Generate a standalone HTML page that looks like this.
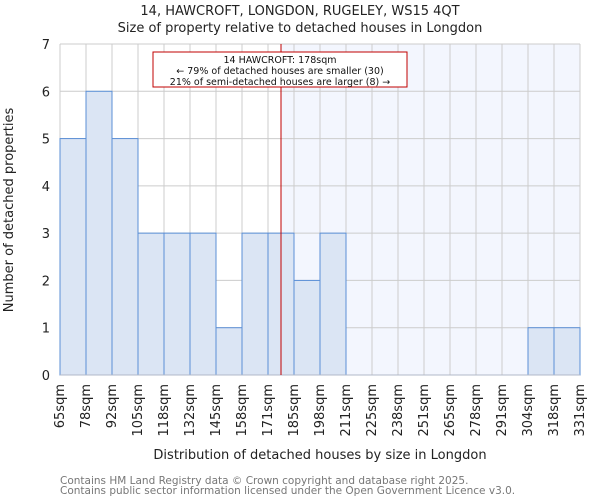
<!DOCTYPE html>
<html><head><meta charset="utf-8"><style>
body{margin:0;background:#fff;font-family:"DejaVu Sans","Liberation Sans",sans-serif}
svg text{font-family:"DejaVu Sans","Liberation Sans",sans-serif}
</style></head><body>
<svg id="c" width="600" height="500"></svg>
<script>
const categories=["65sqm","78sqm","92sqm","105sqm","118sqm","132sqm","145sqm","158sqm","171sqm","185sqm","198sqm","211sqm","225sqm","238sqm","251sqm","265sqm","278sqm","291sqm","304sqm","318sqm","331sqm"];
const counts=[5,6,5,3,3,3,1,3,3,2,3,0,0,0,0,0,0,0,1,1];
const yTicks=[0,1,2,3,4,5,6,7];
const markerValue=8.5; // bin position of 178sqm
const svg=document.getElementById('c');
const NS='http://www.w3.org/2000/svg';
const L=60,R=580,T=44,B=375,yMax=7;
const bw=(R-L)/counts.length;
const x=i=>L+i*bw;
const y=v=>B-(v/yMax)*(B-T);
function mk(tag,attrs,txt){const e=document.createElementNS(NS,tag);for(const k in attrs)e.setAttribute(k,attrs[k]);if(txt!==undefined)e.textContent=txt;svg.appendChild(e);return e;}
let e;
e=mk('rect',{x:L,y:T,width:R-L,height:B-T,fill:'#fff'});

const mx=x(markerValue);
e=mk('rect',{x:mx,y:T,width:R-mx,height:B-T,fill:'#f3f6fe'});

yTicks.forEach(t=>{e=mk('line',{x1:L,x2:R,y1:y(t),y2:y(t),stroke:'#ccc','stroke-width':1});

e=mk('text',{x:L-10,y:y(t)+5,'text-anchor':'end','font-size':13,fill:'#222'},t);
});
categories.forEach((c,i)=>{e=mk('line',{x1:x(i),x2:x(i),y1:T,y2:B,stroke:'#ccc','stroke-width':1});

const tx=x(i)+4;
e=mk('text',{x:0,y:0,transform:`translate(${tx},${B+9}) rotate(-90)`,'text-anchor':'end','font-size':13,fill:'#222'},c);
});
counts.forEach((v,i)=>{if(v<=0)return;
e=mk('rect',{x:x(i),y:y(v),width:bw,height:B-y(v),fill:'#dbe5f4',stroke:'#5b8fd6','stroke-width':1});
});
e=mk('line',{x1:L,x2:R,y1:B,y2:B,stroke:'#b0b8c8','stroke-width':1});

e=mk('line',{x1:mx,x2:mx,y1:T,y2:B,stroke:'#c00000','stroke-width':1});

e=mk('rect',{x:153,y:52,width:254,height:35,fill:'#fff',stroke:'#c00000','stroke-width':1});

[["14 HAWCROFT: 178sqm",62],["← 79% of detached houses are smaller (30)",73],["21% of semi-detached houses are larger (8) →",84]].forEach(a=>{
e=mk('text',{x:280,y:a[1]+1,'text-anchor':'middle','font-size':9.5,fill:'#111'},a[0]);
});
e=mk('text',{x:300,y:15,'text-anchor':'middle','font-size':13,fill:'#222'},"14, HAWCROFT, LONGDON, RUGELEY, WS15 4QT");

e=mk('text',{x:300,y:32,'text-anchor':'middle','font-size':13,fill:'#222'},"Size of property relative to detached houses in Longdon");

e=mk('text',{x:0,y:0,transform:'translate(13,210) rotate(-90)','text-anchor':'middle','font-size':13,fill:'#222'},"Number of detached properties");

e=mk('text',{x:320,y:459,'text-anchor':'middle','font-size':13,fill:'#222'},"Distribution of detached houses by size in Longdon");

e=mk('text',{x:60,y:484,'font-size':10.5,fill:'#777'},"Contains HM Land Registry data © Crown copyright and database right 2025.");

e=mk('text',{x:60,y:494,'font-size':10.5,fill:'#777'},"Contains public sector information licensed under the Open Government Licence v3.0.");

</script>
</body></html>
